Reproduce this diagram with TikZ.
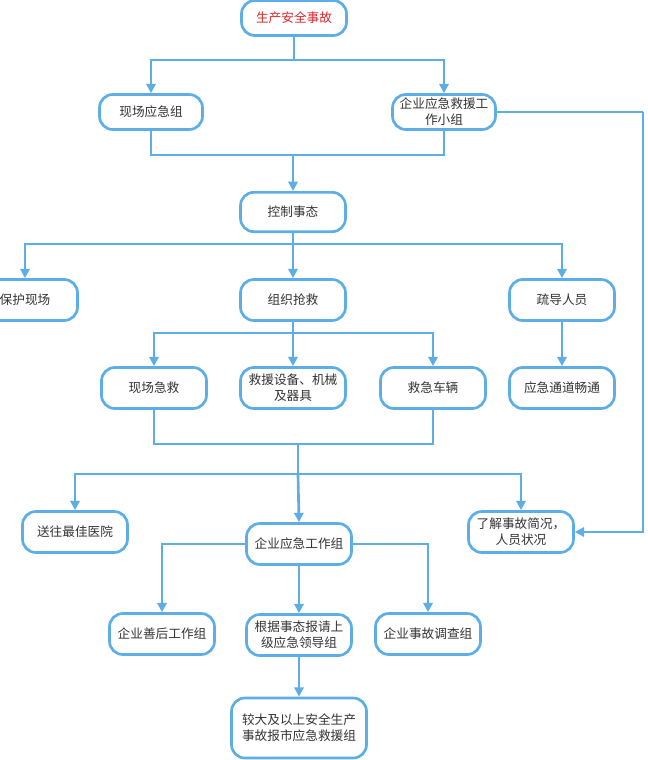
\documentclass[tikz,border=0pt]{standalone}
\usepackage{fontspec}
\setmainfont{Noto Sans CJK SC}
\usetikzlibrary{arrows.meta}
\definecolor{lineblue}{HTML}{5DADE6}
\definecolor{txtgray}{HTML}{333333}
\definecolor{txtred}{HTML}{D9262C}
\begin{document}
\begin{tikzpicture}[x=0.75pt,y=-0.75pt,
  box/.style={draw=lineblue, line width=2pt, rounded corners=10pt, fill=white,
    text=txtgray, font=\fontsize{9.5}{12}\selectfont, align=center,
    minimum width=78.75pt, minimum height=30.75pt, inner sep=1pt},
  shortbox/.style={box, minimum height=26.25pt},
  conn/.style={draw=lineblue, line width=2pt},
  arr/.style={conn, -{Triangle[length=7pt,width=7pt]}}]
\useasboundingbox (0,0) rectangle (647,760);
% nodes
\node[shortbox, text=txtred] (n1) at (294,18) {生产安全事故};
\node[shortbox, minimum width=77.25pt] (n2) at (151,112) {现场应急组};
\node[shortbox, minimum width=77.25pt] (n3) at (444,112) {企业应急救援工\\作小组};
\node[box, minimum height=29.5pt] (n4) at (293,212) {控制事态};
\node[box] (n5) at (25,300) {保护现场};
\node[box] (n6) at (293,300) {组织抢救};
\node[box] (n7) at (562,300) {疏导人员};
\node[box] (n8) at (154,388) {现场急救};
\node[box] (n9) at (293,388) {救援设备、机械\\及器具};
\node[box] (n10) at (433,388) {救急车辆};
\node[box] (n11) at (562,388) {应急通道畅通};
\node[box] (n12) at (75,532) {送往最佳医院};
\node[box] (n13) at (299,544) {企业应急工作组};
\node[box] (n14) at (521,532) {了解事故简况，\\人员状况};
\node[box] (n15) at (162,634) {企业善后工作组};
\node[box] (n16) at (299,635) {根据事态报请上\\级应急领导组};
\node[box] (n17) at (428,634) {企业事故调查组};
\node[box, minimum width=101.25pt, minimum height=45pt] (n18) at (299,728) {较大及以上安全生产\\事故报市应急救援组};
% junction coordinates
\coordinate (j1) at (294,60);
\coordinate (j2) at (293,155);
\coordinate (j3) at (293,244);
\coordinate (j4) at (293,333);
\coordinate (j5) at (298,444);
\coordinate (j6) at (298,474);
\coordinate (r1) at (643,112);
% connectors
\draw[conn] (n1.south) -- (j1);
\draw[arr] (j1) -| (n2.north);
\draw[arr] (j1) -| (n3.north);
\draw[conn] (n2.south) |- (j2);
\draw[conn] (n3.south) |- (j2);
\draw[arr] (j2) -- (n4.north);
\draw[conn] (n3.east) -- (r1);
\draw[arr] (r1) |- (n14.east);
\draw[conn] (n4.south) -- (j3);
\draw[arr] (j3) -| (n5.north);
\draw[arr] (j3) -- (n6.north);
\draw[arr] (j3) -| (n7.north);
\draw[conn] (n6.south) -- (j4);
\draw[arr] (j4) -| (n8.north);
\draw[arr] (j4) -- (n9.north);
\draw[arr] (j4) -| (n10.north);
\draw[arr] (n7.south) -- (n11.north);
\draw[conn] (n8.south) |- (j5);
\draw[conn] (n10.south) |- (j5);
\draw[conn] (j5) -- (j6);
\draw[arr] (j6) -| (n12.north);
\draw[arr] (j6) -- (n13.north);
\draw[arr] (j6) -| (n14.north);
\draw[arr] (n13.west) -| (n15.north);
\draw[arr] (n13.east) -| (n17.north);
\draw[arr] (n13.south) -- (n16.north);
\draw[arr] (n16.south) -- (n18.north);
\end{tikzpicture}
\end{document}
